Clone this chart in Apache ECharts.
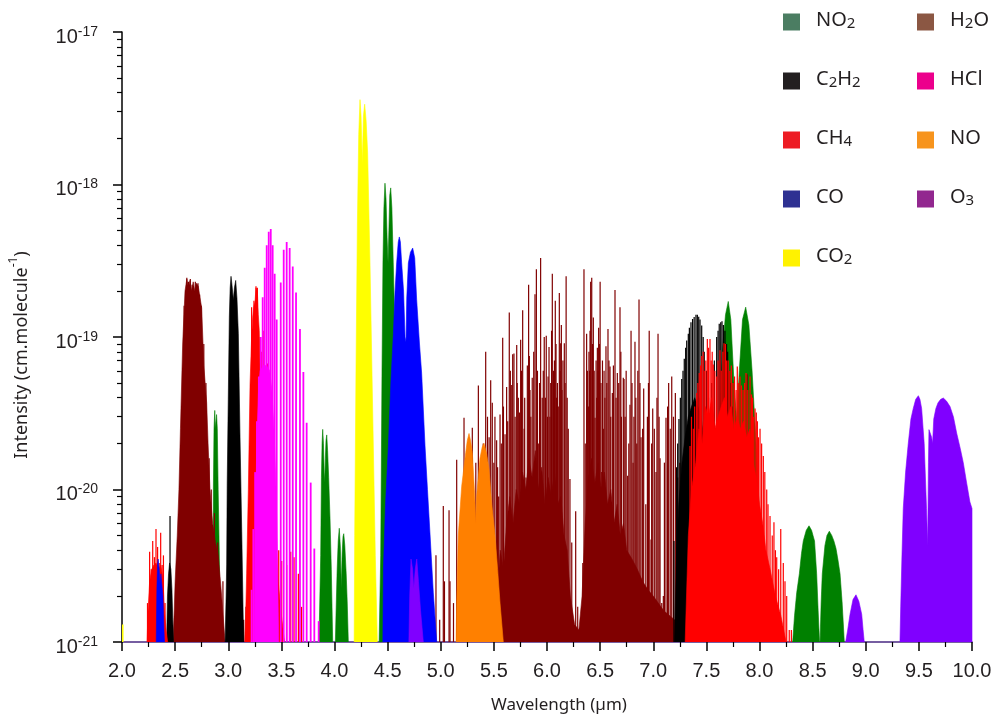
<!DOCTYPE html>
<html>
<head>
<meta charset="utf-8">
<script src="https://cdn.jsdelivr.net/npm/echarts@6/dist/echarts.min.js"></script>
<style>
  html, body { margin: 0; padding: 0; background: #ffffff; }
  #chart { width: 995px; height: 719px; }
</style>
</head>
<body>
<div id="chart"></div>
<script>
// Infrared absorption line intensities of atmospheric gases.
// Every point is [wavelength (µm), intensity (cm.molecule^-1)].
// "Band" arrays trace dense, unresolved band envelopes; "Lines" arrays are single lines.

const xTicks = { min: 2.0, max: 10.0, step: 0.5 };
const yDecades = [1e-21, 1e-20, 1e-19, 1e-18, 1e-17];

// NO2
const no2Band29 = [[2.855,1e-21],[2.858,5e-21],[2.86,1.0e-20],[2.866,2.5e-20],[2.873,3.3e-20],[2.879,2.5e-20],[2.884,2.8e-20],[2.89,3.1e-20],[2.897,2.5e-20],[2.905,1.0e-20],[2.915,4e-21],[2.925,1e-21]];
const no2Band39 = [[3.852,1e-21],[3.858,1.4e-21],[3.87,3.7e-21],[3.877,1.2e-20],[3.883,2e-20],[3.889,2.48e-20],[3.896,2.0e-20],[3.903,1.3e-20],[3.908,1.11e-20],[3.914,1.6e-20],[3.92,2.1e-20],[3.927,2.28e-20],[3.935,1.8e-20],[3.945,1.2e-20],[3.958,6.4e-21],[3.97,3e-21],[3.983,1e-21]];
const no2Band405 = [[4.008,1e-21],[4.015,1.6e-21],[4.025,3e-21],[4.035,4.6e-21],[4.045,5.57e-21],[4.055,4.2e-21],[4.064,2.24e-21],[4.072,3.8e-21],[4.08,4.9e-21],[4.087,5.13e-21],[4.097,4.3e-21],[4.11,2.8e-21],[4.12,1.8e-21],[4.13,1e-21]];
const no2Band45 = [[4.42,1e-21],[4.435,3.7e-21],[4.447,5.8e-20],[4.456,3.06e-19],[4.465,7e-19],[4.475,1.02e-18],[4.485,8e-19],[4.495,4.5e-19],[4.504,3.06e-19],[4.512,5e-19],[4.52,8.5e-19],[4.529,9.5e-19],[4.54,7e-19],[4.553,3.06e-19],[4.57,1e-19],[4.59,3e-20],[4.61,5e-21],[4.63,1e-21]];
const no2Band77 = [[7.6,1e-21],[7.62,2e-20],[7.65,8e-20],[7.68,1.4e-19],[7.706,1.71e-19],[7.73,1.3e-19],[7.76,5e-20],[7.785,2.8e-20],[7.81,6e-20],[7.84,1.3e-19],[7.87,1.57e-19],[7.9,1.2e-19],[7.93,6e-20],[7.96,2.5e-20],[7.99,1e-20],[8.03,1e-21]];
const no2Band85a = [[8.312,1e-21],[8.33,1.5e-21],[8.35,2.1e-21],[8.375,2.8e-21],[8.395,3.8e-21],[8.412,4.6e-21],[8.44,5.4e-21],[8.466,5.78e-21],[8.49,5.4e-21],[8.518,4.6e-21],[8.538,2.8e-21],[8.552,1.6e-21],[8.565,1e-21]];
const no2Band85b = [[8.57,1e-21],[8.58,1.8e-21],[8.591,2.8e-21],[8.616,4.3e-21],[8.635,5.0e-21],[8.657,5.33e-21],[8.68,5.0e-21],[8.70,4.6e-21],[8.72,4.1e-21],[8.74,3.4e-21],[8.758,2.8e-21],[8.778,1.8e-21],[8.798,1e-21]];

// H2O
const h2oBand27 = [[2.48,1e-21],[2.49,1.5e-21],[2.50,2.5e-21],[2.52,5e-21],[2.536,1.0e-20],[2.55,2.5e-20],[2.571,9e-20],[2.585,1.5e-19],[2.593,2.0e-19],[2.61,2.4e-19],[2.625,2.1e-19],[2.64,2.35e-19],[2.655,2.0e-19],[2.67,2.3e-19],[2.685,2.0e-19],[2.70,2.25e-19],[2.718,2.15e-19],[2.735,1.8e-19],[2.75,1.55e-19],[2.77,6.5e-20],[2.797,3.7e-20],[2.81,2e-20],[2.828,1.0e-20],[2.853,6e-21],[2.88,4.5e-21],[2.906,3.7e-21],[2.938,2e-21],[2.97,1e-21]];
const h2oBand63 = [[5.5,1e-21],[5.53,2e-21],[5.56,4e-21],[5.59,3e-21],[5.62,6e-21],[5.65,9e-21],[5.68,6e-21],[5.71,1e-20],[5.74,8e-21],[5.77,1.3e-20],[5.8,1e-20],[5.83,1.6e-20],[5.86,1.2e-20],[5.89,1.8e-20],[5.92,1e-20],[5.95,1.4e-20],[5.98,8e-21],[6.01,1.2e-20],[6.04,9e-21],[6.07,1.3e-20],[6.1,8e-21],[6.13,9e-21],[6.16,5e-21],[6.19,4e-21],[6.22,2e-21],[6.26,1.3e-21],[6.3,1.2e-21],[6.33,2e-21],[6.36,6e-21],[6.39,1.2e-20],[6.42,1.6e-20],[6.45,1.1e-20],[6.48,1.5e-20],[6.51,1e-20],[6.54,1.3e-20],[6.57,8e-21],[6.6,1e-20],[6.63,6e-21],[6.66,8e-21],[6.69,5e-21],[6.72,6e-21],[6.75,4e-21],[6.8,3.5e-21],[6.85,3e-21],[6.9,2.5e-21],[6.95,2.2e-21],[7.0,2e-21],[7.1,1.6e-21],[7.2,1.4e-21],[7.3,1.2e-21],[7.4,1e-21]];
const h2oLines = [
  [2.585,1.6e-19],[2.61,2.45e-19],[2.625,2.3e-19],[2.643,2.4e-19],[2.66,2.2e-19],[2.69,2.3e-19],[2.715,2.25e-19],[2.73,1.9e-19],[2.745,1.6e-19],[2.77,9e-20],[2.79,5e-20],[2.82,1.6e-20],[2.84,1.0e-20],[2.87,7e-21],[2.9,4.5e-21],[2.95,2.5e-21],
  [3.02,1.4e-21],[3.06,1.8e-21],[3.095,1.8e-21],[3.12,1.7e-21],[3.145,1.4e-21],[3.167,1.7e-21],[3.19,1.6e-21],[3.205,1.4e-21],[3.23,1.2e-21],
  [4.842,1.5e-21],[4.899,1.55e-21],[4.955,3.7e-21],[4.99,1.4e-21],[5.024,7.8e-21],[5.035,2.5e-21],[5.078,7.3e-21],[5.087,2.5e-21],[5.12,1.8e-21],[5.15,1.57e-20],[5.175,3e-21],
  [5.19,5e-21],[5.219,2.95e-20],[5.23,1.2e-20],[5.245,6e-21],[5.27,1.5e-20],[5.297,2.54e-20],[5.31,8e-21],[5.33,1.5e-20],[5.354,4.8e-20],[5.38,1.2e-20],[5.40,2e-20],[5.423,8.0e-20],[5.44,3e-20],[5.455,2.2e-20],[5.47,5.2e-20],[5.485,3.7e-20],
  [5.50,1.5e-20],[5.51,3e-20],[5.526,2.1e-20],[5.535,1.4e-20],[5.545,9e-21],[5.558,3.1e-20],[5.57,2e-20],
  [5.583,9.9e-20],[5.59,3.5e-20],[5.605,2.3e-20],[5.62,4.7e-20],[5.63,2.8e-20],[5.645,1.45e-19],[5.655,6e-20],[5.668,4.85e-20],[5.677,7.7e-20],[5.689,7.8e-20],[5.70,3e-20],[5.715,8.85e-20],[5.72,5e-20],[5.73,4e-20],[5.74,3.2e-20],
  [5.752,9.6e-20],[5.76,6e-20],[5.771,1.5e-19],[5.785,2.5e-20],[5.79,4e-20],[5.802,1.2e-20],[5.815,6.5e-20],
  [5.827,2.2e-19],[5.834,7.5e-20],[5.84,4.5e-20],[5.848,3e-20],[5.861,5.4e-20],[5.875,8e-20],[5.887,1.91e-19],[5.90,2.78e-19],[5.91,6e-20],[5.922,2e-20],[5.93,5e-20],[5.94,3.3e-19],[5.955,4e-20],[5.965,6e-20],[5.974,1.0e-19],
  [5.985,4e-20],[5.993,1.02e-19],[6.005,3e-20],[6.01,5.5e-20],[6.019,8.6e-20],[6.027,3e-20],
  [6.035,5e-20],[6.043,1.1e-19],[6.05,2.6e-19],[6.062,6e-20],[6.07,7e-20],[6.078,1.73e-19],[6.085,9e-20],[6.09,4e-20],[6.098,5e-20],[6.106,3.5e-20],[6.116,1.94e-19],[6.123,6e-20],[6.129,9.1e-20],[6.135,1.2e-19],[6.141,4.5e-20],
  [6.15,7e-20],[6.163,9.1e-20],[6.17,5e-20],[6.18,2.5e-19],[6.19,4e-20],[6.2,2.5e-20],[6.216,1.17e-20],[6.233,4.5e-21],[6.27,7.2e-21],[6.289,1.7e-21],[6.337,3.3e-21],
  [6.348,2.78e-19],[6.36,2e-20],[6.373,1.05e-19],[6.38,6e-20],[6.389,3.5e-20],[6.395,8e-20],[6.401,6e-20],[6.405,1.1e-19],[6.411,2.3e-19],[6.421,2.45e-19],[6.428,9e-20],[6.436,1.34e-19],[6.444,6e-20],[6.452,2.95e-20],[6.462,7e-20],
  [6.468,4e-20],[6.474,8.5e-20],[6.48,6e-20],[6.486,1.15e-19],[6.493,9e-20],[6.50,2.3e-19],[6.508,5e-20],[6.515,1.3e-20],[6.522,7e-20],[6.53,2.5e-20],[6.537,6e-20],
  [6.545,4e-20],[6.555,8.7e-20],[6.563,5e-20],[6.574,1.13e-19],[6.583,7e-20],[6.593,6.4e-20],[6.6,3e-20],[6.615,4.3e-20],[6.625,6.5e-20],[6.64,2.03e-19],[6.65,4e-20],[6.662,5.8e-20],[6.675,5e-20],[6.687,1.57e-19],[6.695,8e-20],
  [6.70,3e-20],[6.718,5.4e-20],[6.725,5.3e-20],[6.735,3e-20],[6.745,6e-20],[6.759,1.23e-20],[6.77,2e-20],[6.781,3.6e-20],[6.791,1.1e-19],[6.8,5e-20],[6.81,1.5e-20],[6.818,3e-20],
  [6.828,9.3e-20],[6.836,4e-20],[6.845,2e-20],[6.855,6e-20],[6.866,1.76e-19],[6.875,5e-20],[6.885,2.2e-20],[6.9,2.5e-20],[6.91,4.6e-20],[6.93,8e-21],[6.945,3e-20],[6.955,5e-20],[6.962,1.1e-19],[6.979,4.7e-21],[6.985,2e-20],
  [6.995,3.4e-20],[7.01,2.5e-20],[7.026,1.3e-20],[7.035,4e-20],[7.045,1.05e-19],[7.055,3e-20],[7.064,1.6e-20],[7.08,1.8e-21],[7.095,2.0e-21],[7.105,1.5e-20],
  [7.12,2.95e-20],[7.135,3.5e-20],[7.145,5.0e-20],[7.16,2.5e-20],[7.174,5.5e-20],[7.19,3e-20],[7.208,4.3e-20],[7.23,1.2e-20],[7.25,1.5e-20],[7.28,8e-21],[7.33,1.2e-20],[7.37,6e-21],[7.44,4e-20],[7.885,5.7e-20]
];

// C2H2
const c2h2Band245 = [[2.42,1e-21],[2.428,2e-21],[2.438,2.8e-21],[2.448,3.3e-21],[2.46,3.0e-21],[2.47,2.2e-21],[2.478,1.4e-21],[2.485,1e-21]];
const c2h2Band30 = [[2.97,1e-21],[2.98,2e-21],[2.985,3.2e-21],[2.99,1.1e-20],[3.0,3.9e-20],[3.01,1.35e-19],[3.018,2.1e-19],[3.026,2.5e-19],[3.035,2.2e-19],[3.048,1.75e-19],[3.058,2.1e-19],[3.07,2.35e-19],[3.082,1.8e-19],[3.095,1.05e-19],[3.11,2.35e-20],[3.127,5.3e-21],[3.141,1.4e-21],[3.148,1e-21]];
const c2h2Band74 = [[7.2,1e-21],[7.22,4e-21],[7.24,8e-21],[7.27,1.5e-20],[7.3,2.2e-20],[7.33,3e-20],[7.36,3.5e-20],[7.39,4e-20],[7.42,3.5e-20],[7.45,3e-20],[7.48,2e-20],[7.52,1.2e-20],[7.56,1e-20],[7.6,1.5e-20],[7.64,1.8e-20],[7.68,1.2e-20],[7.72,7e-21],[7.76,4e-21],[7.8,2e-21],[7.84,1e-21]];
const c2h2Lines = [
  [2.452,6.7e-21],[7.195,4.6e-21],[7.22,1.4e-20],[7.23,2e-20],[7.242,2.9e-20],[7.255,4e-20],[7.268,5.3e-20],[7.28,6e-20],[7.292,7.2e-20],[7.305,8.5e-20],[7.315,9.5e-20],[7.33,1.05e-19],[7.34,1.15e-19],[7.355,1.25e-19],
  [7.37,1.31e-19],[7.385,1.35e-19],[7.402,1.4e-19],[7.415,1.4e-19],[7.428,1.36e-19],[7.44,1.3e-19],[7.456,1.19e-19],[7.47,1.0e-19],[7.48,8e-20],[7.5,6e-20],[7.52,4e-20],[7.55,5e-20],[7.575,7e-20],
  [7.597,1.0e-19],[7.61,1.1e-19],[7.621,1.22e-19],[7.635,1.25e-19],[7.647,1.27e-19],[7.66,1.2e-19],[7.675,1.1e-19],[7.69,9e-20],[7.70,8e-20],[7.715,6e-20],[7.73,5e-20],[7.745,3.5e-20],[7.76,2.5e-20]
];

// CH4
const ch4Band23 = [[2.236,1e-21],[2.245,1.6e-21],[2.26,2.5e-21],[2.28,3e-21],[2.30,3.2e-21],[2.32,3.3e-21],[2.345,3e-21],[2.365,3.2e-21],[2.385,2.6e-21],[2.40,1.6e-21],[2.415,1.2e-21],[2.43,1e-21]];
const ch4Band33 = [[3.155,1e-21],[3.165,1.6e-21],[3.173,2.8e-21],[3.189,1.0e-20],[3.205,4.9e-20],[3.22,1.0e-19],[3.23,1.35e-19],[3.242,1.6e-19],[3.252,1.7e-19],[3.261,2.1e-19],[3.268,2.15e-19],[3.274,2.0e-19],[3.283,1.4e-19],[3.292,1.1e-19],[3.30,6e-20],[3.32,4e-20],[3.35,3e-20],[3.38,2e-20],[3.41,1e-20],[3.44,5e-21],[3.47,2.5e-21],[3.5,1.5e-21],[3.53,1e-21]];
const ch4Band77 = [[7.3,1e-21],[7.33,5e-21],[7.36,1e-20],[7.4,1.5e-20],[7.43,2.5e-20],[7.46,2e-20],[7.49,3.5e-20],[7.52,3e-20],[7.55,4e-20],[7.58,2.5e-20],[7.61,3e-20],[7.64,3.5e-20],[7.67,4e-20],[7.7,3e-20],[7.73,3.5e-20],[7.76,2.5e-20],[7.79,3e-20],[7.82,2.5e-20],[7.85,2.8e-20],[7.88,2.2e-20],[7.91,2.5e-20],[7.94,1.5e-20],[7.97,1.2e-20],[8.0,8e-21],[8.03,6e-21],[8.06,4e-21],[8.1,3e-21],[8.15,2e-21],[8.2,1.5e-21],[8.25,1e-21]];
const ch4Lines = [
  [2.24,1.8e-21],[2.26,3.9e-21],[2.275,3.0e-21],[2.289,4.6e-21],[2.305,3.6e-21],[2.32,5.5e-21],[2.335,4.2e-21],[2.35,3.3e-21],[2.364,5.2e-21],[2.378,3.2e-21],[2.39,3.7e-21],[2.405,1.8e-21],
  [3.22,1.57e-19],[3.242,1.73e-19],[3.261,2.15e-19],[3.274,2.1e-19],[3.30,1.0e-19],[3.315,8e-20],[3.335,1.1e-19],[3.35,6e-20],[3.37,6.7e-20],[3.39,3e-20],[3.41,2e-20],[3.43,1.2e-20],[3.45,6e-21],[3.475,4e-21],
  [3.503,3.4e-21],[3.55,3.2e-21],[3.588,3.9e-21],[3.619,3.6e-21],[3.66,2.8e-21],[3.69,1.7e-21],
  [7.346,1.93e-20],[7.36,3e-20],[7.377,2.5e-20],[7.39,3.5e-20],[7.409,4.3e-20],[7.42,5e-20],[7.433,5.8e-20],[7.445,6.5e-20],[7.456,7.5e-20],[7.47,8e-20],[7.48,6e-20],[7.495,7e-20],[7.509,9.7e-20],[7.52,8.5e-20],
  [7.534,9.7e-20],[7.545,7e-20],[7.555,8e-20],[7.565,6.6e-20],[7.58,6e-20],[7.597,5.5e-20],[7.61,7e-20],[7.628,8.2e-20],[7.64,6e-20],[7.655,8e-20],[7.666,9.1e-20],[7.68,9e-20],[7.69,7e-20],[7.705,7e-20],
  [7.72,6e-20],[7.735,6.5e-20],[7.75,5e-20],[7.765,5.5e-20],[7.78,4.5e-20],[7.791,6.4e-20],[7.8,5e-20],[7.816,5.5e-20],[7.83,4.8e-20],[7.845,4.5e-20],[7.86,5e-20],[7.873,5.8e-20],[7.89,4.5e-20],[7.911,5.5e-20],
  [7.925,4.2e-20],[7.935,4e-20],[7.945,3e-20],[7.958,3.4e-20],[7.97,3.2e-20],[7.98,2.8e-20],[7.99,2.2e-20],[8.005,2.5e-20],[8.02,2e-20],[8.036,1.66e-20],[8.05,1.3e-20],[8.068,1.0e-20],[8.08,8e-21],
  [8.099,6.7e-21],[8.12,5e-21],[8.136,6.1e-21],[8.15,4e-21],[8.162,3.6e-21],[8.18,3e-21],[8.2,5.5e-21],[8.224,3.3e-21],[8.24,2.5e-21],[8.256,2.0e-21],[8.28,1.2e-21],[8.3,1.2e-21]
];

// HCl
const hclBand = [[3.245,1e-21],[3.255,4e-21],[3.268,2e-20],[3.285,4.5e-20],[3.30,6e-20],[3.33,6.5e-20],[3.36,6.5e-20],[3.39,6e-20],[3.41,4.5e-20],[3.43,2.5e-20],[3.45,1e-20],[3.465,3e-21],[3.475,1e-21]];
const hclLines = [
  [3.22,2.2e-21],[3.236,5.5e-21],[3.253,1.3e-20],[3.27,2.8e-20],[3.288,5.5e-20],[3.306,1.0e-19],[3.324,1.82e-19],[3.343,2.85e-19],[3.362,4.0e-19],[3.381,4.9e-19],[3.40,5.1e-19],[3.418,4.0e-19],[3.437,2.6e-19],[3.456,1.3e-19],
  [3.494,2.28e-19],[3.522,3.74e-19],[3.55,4.2e-19],[3.578,3.84e-19],[3.607,2.9e-19],[3.638,1.96e-19],[3.675,1.13e-19],[3.707,5.9e-20],[3.738,2.74e-20],[3.776,1.11e-20],[3.81,4.1e-21],[3.851,1.37e-21]
];

// CO
const coBand235 = [[2.322,1e-21],[2.328,2.2e-21],[2.334,3.2e-21],[2.34,3.5e-21],[2.35,3.0e-21],[2.358,2.4e-21],[2.366,2.8e-21],[2.374,2.8e-21],[2.385,2.0e-21],[2.395,1.2e-21],[2.40,1e-21]];
const coBand47 = [[4.455,1e-21],[4.46,3e-21],[4.48,8e-21],[4.507,1.93e-20],[4.53,5e-20],[4.553,1.02e-19],[4.57,2e-19],[4.585,3.06e-19],[4.60,4.2e-19],[4.61,4.53e-19],[4.62,4.2e-19],[4.632,3.06e-19],[4.65,2e-19],[4.664,1.0e-19],[4.673,9.3e-20],[4.68,1.8e-19],[4.695,3.06e-19],[4.715,3.6e-19],[4.736,3.83e-19],[4.755,3.3e-19],[4.773,1.77e-19],[4.80,9e-20],[4.82,5.8e-20],[4.852,1.93e-20],[4.875,1e-20],[4.899,5.1e-21],[4.93,2.1e-21],[4.962,1e-21]];

// CO2
const co2Band43 = [[4.185,1e-21],[4.19,5e-21],[4.202,5.8e-20],[4.215,5.35e-19],[4.228,2.13e-18],[4.24,3.6e-18],[4.25,2.8e-18],[4.262,1.37e-18],[4.272,2.8e-18],[4.284,3.36e-18],[4.298,2.6e-18],[4.312,1.61e-18],[4.334,3.06e-19],[4.359,3.37e-20],[4.384,3.7e-21],[4.403,1e-21]];
const co2Lines = [[2.005,1.3e-21]];

// NO
const noBand53 = [[5.144,1e-21],[5.15,1.8e-21],[5.165,5e-21],[5.197,1.05e-20],[5.235,1.75e-20],[5.25,2.1e-20],[5.266,2.33e-20],[5.28,2.1e-20],[5.297,1.75e-20],[5.32,9.1e-21],[5.329,6e-21],[5.338,9.1e-21],[5.369,1.6e-20],[5.39,1.9e-20],[5.407,2.01e-20],[5.43,1.75e-20],[5.454,1.37e-20],[5.48,8e-21],[5.511,5e-21],[5.535,3e-21],[5.558,1.8e-21],[5.589,1e-21]];

// O3
const o3Band475 = [[4.70,1e-21],[4.708,2e-21],[4.72,3.5e-21],[4.735,3.0e-21],[4.746,2.24e-21],[4.76,3.0e-21],[4.774,3.5e-21],[4.79,2.5e-21],[4.81,1.6e-21],[4.836,1e-21]];
const o3Band89 = [[8.811,1e-21],[8.83,1.2e-21],[8.852,1.52e-21],[8.88,1.9e-21],[8.908,2.04e-21],[8.935,1.85e-21],[8.962,1.52e-21],[8.975,1.2e-21],[8.986,1e-21]];
const o3Band96 = [[9.322,1e-21],[9.329,1.7e-21],[9.34,3.5e-21],[9.353,7.5e-21],[9.375,1.3e-20],[9.4,2e-20],[9.425,2.9e-20],[9.447,3.4e-20],[9.47,3.9e-20],[9.495,4.12e-20],[9.51,3.9e-20],[9.526,3.4e-20],[9.55,2e-20],[9.572,7.5e-21],[9.583,4.3e-21],[9.59,1.5e-20],[9.595,2.47e-20],[9.611,2.54e-20],[9.62,2.2e-20],[9.629,2e-20],[9.64,2.9e-20],[9.66,3.4e-20],[9.68,3.7e-20],[9.705,3.9e-20],[9.73,3.98e-20],[9.76,3.8e-20],[9.793,3.5e-20],[9.825,3.0e-20],[9.856,2.34e-20],[9.89,1.85e-20],[9.918,1.5e-20],[9.95,1.1e-20],[9.98,8.3e-21],[10.0,7.5e-21],[10.0,1e-21]];

// Plot colours for the spectra and the swatch colours used in the key
const plotColor = { NO2:'#008000', H2O:'#800000', C2H2:'#000000', CH4:'#ff0000', HCl:'#ff00ff', CO:'#0000ff', CO2:'#ffff00', NO:'#ff8000', O3:'#8000ff' };
const keyColor  = { NO2:'#4b7d62', H2O:'#8b5743', C2H2:'#231f20', CH4:'#ed1c24', HCl:'#ec008c', CO:'#2e3192', CO2:'#fff200', NO:'#f7941d', O3:'#92278f' };
const keyColumn1 = ['NO2', 'C2H2', 'CH4', 'CO', 'CO2'];
const keyColumn2 = ['H2O', 'HCl', 'NO', 'O3'];

// The log axis works in multiples of the smallest decade (its rounding
// breaks on raw values this small); labels add the exponent back.
const UNIT = yDecades[0];
const UNIT_EXP = Math.round(Math.log10(UNIT));
const scaled = arr => arr.map(p => [p[0], p[1] / UNIT]);
const Y_MIN = 1;
const Y_MAX = yDecades[yDecades.length - 1] / UNIT;

function band(name, data) {
  const c = plotColor[name];
  return {
    name, type: 'line', data: scaled(data), symbol: 'none', showSymbol: false, smooth: false,
    lineStyle: { width: 0.6, color: c }, itemStyle: { color: c },
    areaStyle: { color: c, opacity: 1, origin: 'start' },
    silent: true, animation: false, clip: true
  };
}

function lines(name, data, width) {
  const c = plotColor[name];
  return {
    name, type: 'custom', data: scaled(data), encode: { x: 0, y: 1 }, clip: true,
    itemStyle: { color: c }, silent: true, animation: false,
    renderItem: function (params, api) {
      const x = api.value(0);
      const top = api.coord([x, api.value(1)]);
      const base = api.coord([x, Y_MIN]);
      return {
        type: 'rect',
        shape: { x: top[0] - width / 2, y: top[1], width: width, height: base[1] - top[1] },
        style: { fill: c }
      };
    }
  };
}

const series = [
  band('NO2', no2Band29), band('NO2', no2Band39), band('NO2', no2Band405), band('NO2', no2Band45),
  band('NO2', no2Band77), band('NO2', no2Band85a), band('NO2', no2Band85b),
  band('H2O', h2oBand27), band('H2O', h2oBand63), lines('H2O', h2oLines, 1.2),
  band('C2H2', c2h2Band245), band('C2H2', c2h2Band30), band('C2H2', c2h2Band74), lines('C2H2', c2h2Lines, 1.2),
  band('CH4', ch4Band23), band('CH4', ch4Band33), band('CH4', ch4Band77), lines('CH4', ch4Lines, 1.2),
  band('HCl', hclBand), lines('HCl', hclLines, 1.8),
  band('CO', coBand235), band('CO', coBand47),
  band('CO2', co2Band43), lines('CO2', co2Lines, 2),
  band('NO', noBand53),
  band('O3', o3Band475), band('O3', o3Band89), band('O3', o3Band96)
];
// paint strictly in the listed order
series.forEach((s, i) => { s.z = 2 + i * 0.01; });

// minor ticks of the logarithmic axis at 2..9 within each decade
const yMinorTicks = [];
for (let i = 0; i < yDecades.length - 1; i++) {
  for (let m = 2; m <= 9; m++) yMinorTicks.push(m * yDecades[i] / UNIT);
}

function chemRich(name) {
  return name.split(/(\d)/).filter(Boolean)
    .map(p => /\d/.test(p) ? '{s|' + p + '}' : '{n|' + p + '}').join('');
}

const keyText = {
  fontFamily: 'Noto Sans', color: '#231f20',
  padding: [0, 0, 0, 11],
  rich: {
    n: { fontFamily: 'Noto Sans', fontSize: 20, color: '#231f20', lineHeight: 24, padding: [0, 0, 6, 0], verticalAlign: 'top' },
    s: { fontFamily: 'Noto Sans', fontSize: 15, color: '#231f20', lineHeight: 24, padding: [6, 0, 0, 0], verticalAlign: 'top' }
  }
};

function keyLegend(names, left) {
  return {
    orient: 'vertical', left: left, top: 10, padding: 0,
    itemWidth: 17, itemHeight: 17, itemGap: 33, icon: 'rect',
    selectedMode: false,
    data: names.map(n => ({ name: n, itemStyle: { color: keyColor[n], borderWidth: 0 } })),
    formatter: chemRich,
    textStyle: keyText
  };
}

const chart = echarts.init(document.getElementById('chart'), null, { renderer: 'canvas' });
chart.setOption({
  backgroundColor: '#ffffff',
  animation: false,
  grid: { left: 122, right: 23, top: 32, bottom: 71, containLabel: false },
  legend: [keyLegend(keyColumn1, 783), keyLegend(keyColumn2, 917)],
  xAxis: {
    type: 'value', min: xTicks.min, max: xTicks.max, interval: xTicks.step,
    name: 'Wavelength (µm)', nameLocation: 'middle', nameGap: 55,
    nameTextStyle: { fontFamily: 'Noto Sans', fontSize: 17, color: '#231f20', padding: [0, 0, 0, 24] },
    axisLine: { show: true, onZero: false, lineStyle: { color: '#4a2a82', width: 1.5 } },
    axisTick: { show: true, inside: false, length: 9, lineStyle: { color: '#000', width: 1.5 } },
    minorTick: { show: true, splitNumber: 2, length: 5, lineStyle: { color: '#000', width: 1.2 } },
    axisLabel: {
      margin: 19, fontFamily: 'Liberation Sans', fontSize: 20, color: '#231f20',
      formatter: v => v.toFixed(1)
    },
    splitLine: { show: false }
  },
  yAxis: [
    {
      type: 'log', logBase: 10, min: Y_MIN, max: Y_MAX,
      name: '{t|Intensity (cm.molecule}{u|-1}{t|)}', nameLocation: 'middle', nameGap: 92, nameRotate: 90,
      nameTextStyle: {
        padding: [0, 36, 0, 0],
        rich: {
          t: { fontFamily: 'Noto Sans', fontSize: 18, color: '#231f20', lineHeight: 22, padding: [5, 0, 0, 0], verticalAlign: 'top' },
          u: { fontFamily: 'Noto Sans', fontSize: 12, color: '#231f20', lineHeight: 14, padding: [0, 0, 13, 0], verticalAlign: 'top' }
        }
      },
      axisLine: { show: true, lineStyle: { color: '#000', width: 1.5 } },
      axisTick: { show: true, inside: false, length: 9, lineStyle: { color: '#000', width: 1.5 } },
      axisLabel: {
        margin: 24, color: '#231f20',
        formatter: v => '{b|10}{p|' + (Math.round(Math.log10(v)) + UNIT_EXP) + '}',
        rich: {
          b: { fontFamily: 'Liberation Sans', fontSize: 20, color: '#231f20', lineHeight: 22, padding: [6, 0, 6, 0], verticalAlign: 'top' },
          p: { fontFamily: 'Liberation Sans', fontSize: 14, color: '#231f20', lineHeight: 16, padding: [4, 0, 14, 0], verticalAlign: 'top' }
        }
      },
      splitLine: { show: false }
    },
    {
      type: 'log', logBase: 10, min: Y_MIN, max: Y_MAX, position: 'left',
      axisLine: { show: false },
      axisLabel: { show: false },
      axisTick: { show: true, inside: false, length: 5, customValues: yMinorTicks, lineStyle: { color: '#000', width: 1.2 } },
      splitLine: { show: false }
    }
  ],
  series: series
});
</script>
</body>
</html>
